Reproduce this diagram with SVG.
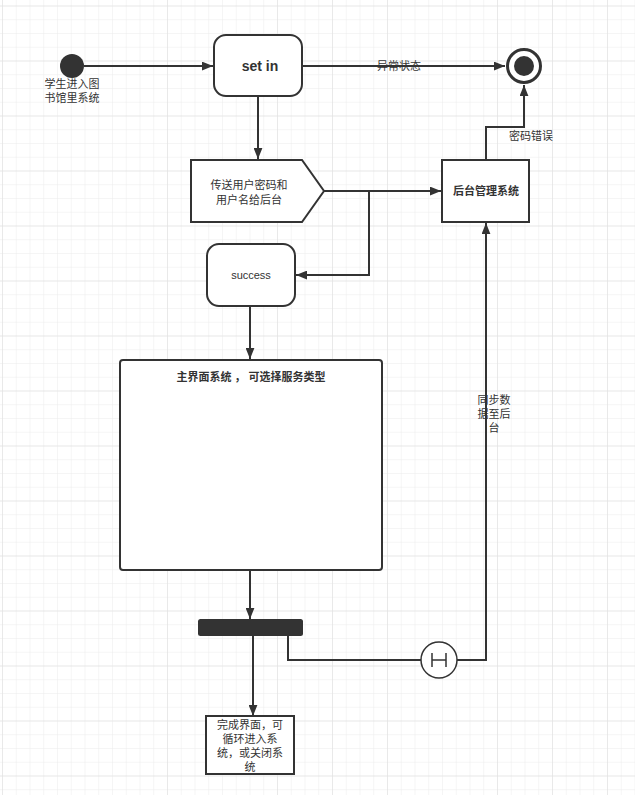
<svg xmlns="http://www.w3.org/2000/svg" width="635" height="795" viewBox="0 0 635 795">
<defs>
<pattern id="minor" x="2" y="5.5" width="13.75" height="13.75" patternUnits="userSpaceOnUse">
<path d="M0 0H13.75M0 0V13.75" fill="none" stroke="#ebebeb" stroke-width="1"/>
</pattern>
<pattern id="major" x="2" y="5.5" width="55" height="55" patternUnits="userSpaceOnUse">
<path d="M0 0H55M0 0V55" fill="none" stroke="#dedede" stroke-width="1"/>
</pattern>
<marker id="arr" viewBox="0 0 10 8" refX="10" refY="4" markerWidth="11" markerHeight="9" markerUnits="userSpaceOnUse" orient="auto">
<path d="M0 0L10 4L0 8Z" fill="#333"/>
</marker>
<style>
.ln{fill:none;stroke:#333;stroke-width:2}
.box{fill:#fff;stroke:#333;stroke-width:2}
.t{font-family:"Liberation Sans","Noto Sans CJK SC",sans-serif;font-size:11px;fill:#333;text-anchor:middle;dominant-baseline:central}
.b{font-weight:bold}
</style>
</defs>
<rect width="635" height="795" fill="#fff"/>
<rect width="635" height="795" fill="url(#minor)"/>
<rect width="635" height="795" fill="url(#major)"/>

<g id="connectors">
<path class="ln" d="M84 66H213" marker-end="url(#arr)"/>
<path class="ln" d="M302 66H505" marker-end="url(#arr)"/>
<path class="ln" d="M258 96V159" marker-end="url(#arr)"/>
<path class="ln" d="M324 191H441" marker-end="url(#arr)"/>
<path class="ln" d="M369 191V275H296" marker-end="url(#arr)"/>
<path class="ln" d="M486 160V127H524V85" marker-end="url(#arr)"/>
<path class="ln" d="M250 307V359" marker-end="url(#arr)"/>
<path class="ln" d="M250 570V619" marker-end="url(#arr)"/>
<path class="ln" d="M253 635V716" marker-end="url(#arr)"/>
<path class="ln" d="M288 635V660H421"/>
<path class="ln" d="M457 660H486V223" marker-end="url(#arr)"/>
<text class="t" x="399" y="66">异常状态</text>
<text class="t" x="531" y="136">密码错误</text>
<text class="t" x="494" y="400">同步数</text>
<text class="t" x="494" y="414">据至后</text>
<text class="t" x="494" y="428">台</text>
</g>

<g id="start">
<circle cx="72" cy="66" r="12" fill="#333"/>
<text class="t" x="72" y="84">学生进入图</text>
<text class="t" x="72" y="98">书馆里系统</text>
</g>

<g id="setin">
<rect class="box" x="214" y="35" width="88" height="61" rx="12"/>
<text class="t b" x="260" y="66" style="font-size:14px">set in</text>
</g>

<g id="end">
<circle cx="524" cy="66" r="16.5" fill="#fff" stroke="#333" stroke-width="3"/>
<circle cx="524" cy="66" r="10" fill="#333"/>
</g>

<g id="send">
<path class="box" d="M191 160H302L324 191L302 222H191Z"/>
<text class="t" x="249" y="185">传送用户密码和</text>
<text class="t" x="249" y="200">用户名给后台</text>
</g>

<g id="backend">
<rect class="box" x="442" y="160" width="87" height="62"/>
<text class="t b" x="486" y="191">后台管理系统</text>
</g>

<g id="success">
<rect class="box" x="207" y="244" width="88" height="62" rx="12"/>
<text class="t" x="251" y="275">success</text>
</g>

<g id="main">
<rect class="box" x="120" y="360" width="262" height="210" rx="3"/>
<text class="t b" x="251" y="377">主界面系统 ， 可选择服务类型</text>
</g>

<g id="fork">
<rect x="198" y="619" width="105" height="17" rx="2.5" fill="#333"/>
</g>

<g id="hist">
<circle cx="439" cy="660" r="18" fill="#fff" stroke="#333" stroke-width="1.5"/>
<path d="M432 653V667M446 653V667M432 660H446" fill="none" stroke="#333" stroke-width="1.5"/>
</g>

<g id="finish">
<rect class="box" x="206" y="716" width="88" height="58"/>
<text class="t" x="250" y="725">完成界面，可</text>
<text class="t" x="250" y="739">循环进入系</text>
<text class="t" x="250" y="753">统，或关闭系</text>
<text class="t" x="250" y="767">统</text>
</g>
</svg>
